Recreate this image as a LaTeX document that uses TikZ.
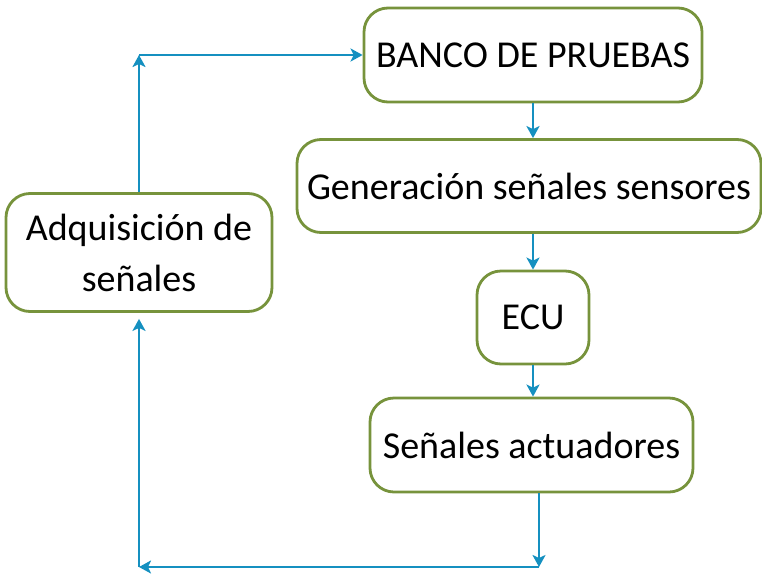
\documentclass[tikz,border=0pt]{standalone}
\usepackage{fontspec}
\setmainfont{Carlito}
\usetikzlibrary{positioning,arrows.meta}
\definecolor{verde}{HTML}{77933C}
\definecolor{azul}{HTML}{1590C0}

\begin{document}
\begin{tikzpicture}[x=1pt,y=-1pt,
      caja/.style={draw=verde,line width=2.8pt,rounded corners=24pt,fill=white,
                   align=center,font=\fontsize{38}{51}\selectfont,inner sep=0pt},
      flecha/.style={-{Stealth[length=12pt,width=13pt,inset=3pt]},draw=azul,line width=2.8pt}]
    \useasboundingbox (0,0) rectangle (762,573);
    \node[caja,minimum width=338pt,minimum height=94pt] (banco) at (533,55) {BANCO DE PRUEBAS};
    \node[caja,minimum width=464pt,minimum height=93pt] (gen) at (529,186) {Generación señales sensores};
    \node[caja,minimum width=112pt,minimum height=93pt] (ecu) at (533,317.5) {ECU};
    \node[caja,minimum width=323pt,minimum height=94pt] (act) at (531.5,445) {Señales actuadores};
    \node[caja,minimum width=266pt,minimum height=118pt] (adq) at (139,252.5) {Adquisición de~\\ señales};
    \coordinate (esqA) at (139,55);
    \coordinate (esqB) at (539,567);
    \coordinate (esqC) at (139,567);
    \draw[flecha] (banco.south) -- (banco.south |- gen.north);
    \draw[flecha] (gen.south -| ecu.north) -- (ecu.north);
    \draw[flecha] (ecu.south) -- (ecu.south |- act.north);
    \draw[flecha] (act.south -| esqB) -- (esqB);
    \draw[flecha] (esqB) -- (esqC);
    \draw[flecha,shorten >=6pt] (esqC) -- (adq.south);
    \draw[flecha] (adq.north) -- (esqA);
    \draw[flecha] (esqA) -- (banco.west);
  \end{tikzpicture}
\end{document}
